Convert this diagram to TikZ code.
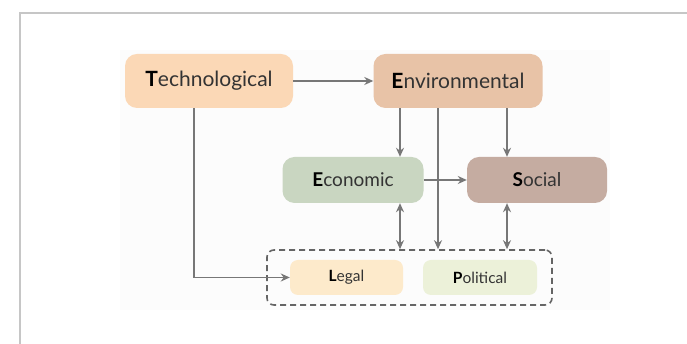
\documentclass[tikz,border=0pt]{standalone}
\usepackage{fontspec}
\setmainfont{Lato}
\usetikzlibrary{arrows.meta, positioning, calc}

\definecolor{techfill}{HTML}{FBD8B6}
\definecolor{envfill}{HTML}{E8C3A7}
\definecolor{econfill}{HTML}{C9D6C1}
\definecolor{socialfill}{HTML}{C5ACA1}
\definecolor{legalfill}{HTML}{FDEACB}
\definecolor{polfill}{HTML}{ECF1D9}
\definecolor{linkgray}{HTML}{777777}
\definecolor{textgray}{HTML}{333333}

\begin{document}
\begin{tikzpicture}[
  x=1pt, y=1pt,
  block/.style = {rounded corners=12pt, minimum height=54pt, font=\fontsize{21}{23}\selectfont, text=textgray, align=center},
  midblock/.style = {block, minimum height=46pt, minimum width=141pt, font=\fontsize{19}{21}\selectfont},
  smallblock/.style = {rounded corners=8pt, minimum height=35pt, minimum width=113pt, text=textgray, font=\fontsize{15.5}{17}\selectfont},
  arrow/.style = {draw=linkgray, line width=1.6pt, -{Stealth[length=9pt, width=8pt]}},
  biarrow/.style = {arrow, {Stealth[length=9pt, width=8pt]}-{Stealth[length=9pt, width=8pt]}},
  group/.style = {draw=linkgray!85!black, line width=1.6pt, dash pattern=on 6pt off 4pt, rounded corners=7pt}
]

  % ======================================================
  % page frame and background panel
  % ======================================================
  \useasboundingbox (0,0) rectangle (687,344);
  \fill[gray!2] (120,34) rectangle (610,294);
  \draw[gray!45, line width=1.6pt] (20,0) -- (20,331) -- (687,331);

  % ======================================================
  % top row
  % ======================================================
  \node[block, fill=techfill, minimum width=168pt] (tech) at (209,263) {\textbf{\color{black}T}echnological};
  \node[block, fill=envfill, minimum width=169pt] (env) at (458,263) {\textbf{\color{black}E}nvironmental};

  % middle row
  \node[midblock, fill=econfill] (econ) at (353,164) {\textbf{\color{black}E}conomic};
  \node[midblock, fill=socialfill, minimum width=140pt] (social) at (537,164) {\textbf{\color{black}S}ocial};

  % bottom group (Legal + Political)
  \node[group, minimum width=285pt, minimum height=55pt] (lp) at (409.5,66.5) {};
  \node[smallblock, fill=legalfill] (legal) at (346.5,66.5) {\textbf{\color{black}L}egal};
  \node[smallblock, fill=polfill, minimum width=114pt] (political) at (480,66.5) {\textbf{\color{black}P}olitical};

  % ======================================================
  % connectors
  % ======================================================
  \draw[arrow] (tech.east) -- (env.west);
  \draw[arrow] ([xshift=-15pt]tech.south) |- (legal.west);

  % Environmental -> Economic / Political / Social
  \draw[arrow] ([xshift=47pt]econ.north |- env.south) -- ([xshift=47pt]econ.north);
  \draw[arrow] ([xshift=-20pt]env.south) -- ([xshift=-20pt]env.south |- lp.north);
  \draw[arrow] ([xshift=-30pt]social.north |- env.south) -- ([xshift=-30pt]social.north);

  % Economic -> Social
  \draw[arrow] (econ.east) -- (social.west);

  % two-way links to the group
  \draw[biarrow] ([xshift=47pt]econ.south) -- ([xshift=47pt]econ.south |- lp.north);
  \draw[biarrow] ([xshift=-30pt]social.south) -- ([xshift=-30pt]social.south |- lp.north);

\end{tikzpicture}
\end{document}
